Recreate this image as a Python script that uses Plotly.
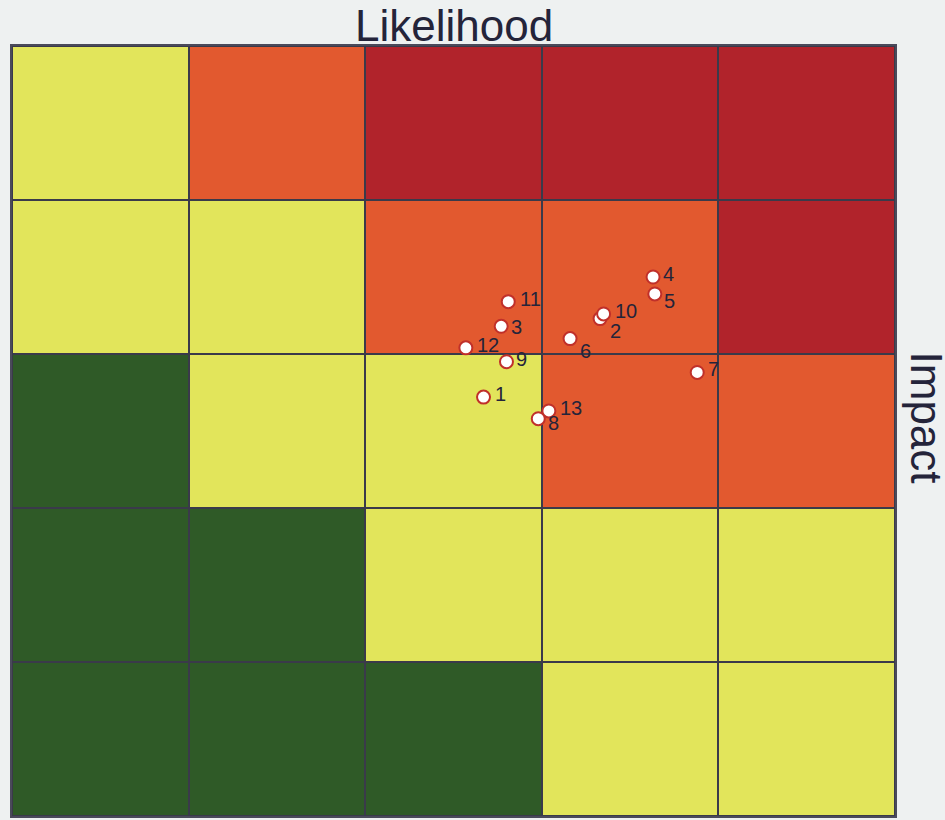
import plotly.graph_objects as go

# Risk matrix levels, rows from bottom (impact 1) to top (impact 5)
# 0 = green, 1 = yellow, 2 = orange, 3 = red
likelihood = [1, 2, 3, 4, 5]
impact = [1, 2, 3, 4, 5]
levels = [
    [0, 0, 0, 1, 1],
    [0, 0, 1, 1, 1],
    [0, 1, 1, 2, 2],
    [1, 1, 2, 2, 3],
    [1, 2, 3, 3, 3],
]

# Risk items
risk_ids = ["1", "2", "3", "4", "5", "6", "7", "8", "9", "10", "11", "12", "13"]
risk_likelihood = [3.17, 3.83, 3.27, 4.13, 4.14, 3.66, 4.38, 3.48, 3.30, 3.85, 3.31, 3.07, 3.54]
risk_impact = [3.22, 3.73, 3.68, 4.00, 3.89, 3.60, 3.38, 3.08, 3.45, 3.76, 3.84, 3.54, 3.13]

# label offsets in pixels (left edge x shift, vertical shift up)
label_dx = [9, 7.5, 7.5, 8, 7.5, 8, 8.5, 8, 8, 9.5, 9.5, 9.5, 9.5]
label_dy = [3, -12, -1, 3, -7, -12, 3, -4, 3, 3, 2.5, 3, 2.5]

GREEN = "#2f5a27"
YELLOW = "#e2e55b"
ORANGE = "#e2592f"
RED = "#b1232b"
BG = "#eef1f1"
LINE = "#3a3a4a"
TEXT = "#24243a"
FONT = "Liberation Sans, Arial, sans-serif"

fig = go.Figure()

fig.add_trace(go.Heatmap(
    x=likelihood, y=impact, z=levels,
    zmin=0, zmax=3,
    colorscale=[[0, GREEN], [1/3, YELLOW], [2/3, ORANGE], [1, RED]],
    showscale=False, xgap=2, ygap=2, hoverinfo="skip",
))

fig.add_trace(go.Scatter(
    x=risk_likelihood, y=risk_impact, mode="markers",
    marker=dict(size=13, color="white", line=dict(color="#c0302a", width=2)),
    hoverinfo="text", text=risk_ids, showlegend=False,
))

for rid, rx, ry, dx, dy in zip(risk_ids, risk_likelihood, risk_impact, label_dx, label_dy):
    fig.add_annotation(
        x=rx, y=ry, text=rid, showarrow=False,
        xanchor="left", yanchor="middle", xshift=dx, yshift=dy,
        font=dict(family=FONT, size=20, color=TEXT),
    )

fig.add_annotation(
    x=0.5, y=1, xref="paper", yref="paper", text="Likelihood",
    showarrow=False, xanchor="center", yanchor="bottom", yshift=-6,
    font=dict(family=FONT, size=44, color=TEXT),
)
fig.add_annotation(
    x=1, y=0.5, xref="paper", yref="paper", text="Impact",
    showarrow=False, xanchor="left", yanchor="middle", xshift=5, yshift=14,
    textangle=90,
    font=dict(family=FONT, size=44, color=TEXT),
)

fig.update_xaxes(range=[0.5, 5.5], showticklabels=False, showgrid=False, zeroline=False,
                 showline=True, mirror=True, linecolor="#4a4a5a", linewidth=2, ticks="")
fig.update_yaxes(range=[0.5, 5.5], showticklabels=False, showgrid=False, zeroline=False,
                 showline=True, mirror=True, linecolor="#4a4a5a", linewidth=2, ticks="")

fig.update_layout(
    width=945, height=820,
    margin=dict(l=12, r=50, t=46, b=4),
    paper_bgcolor=BG, plot_bgcolor=LINE,
    showlegend=False,
)

fig.write_html(
    "out.html",
    config={"displayModeBar": False},
    post_script="document.body.style.margin='0';document.body.style.overflow='hidden';"
                "document.body.style.background='#eef1f1';",
)
